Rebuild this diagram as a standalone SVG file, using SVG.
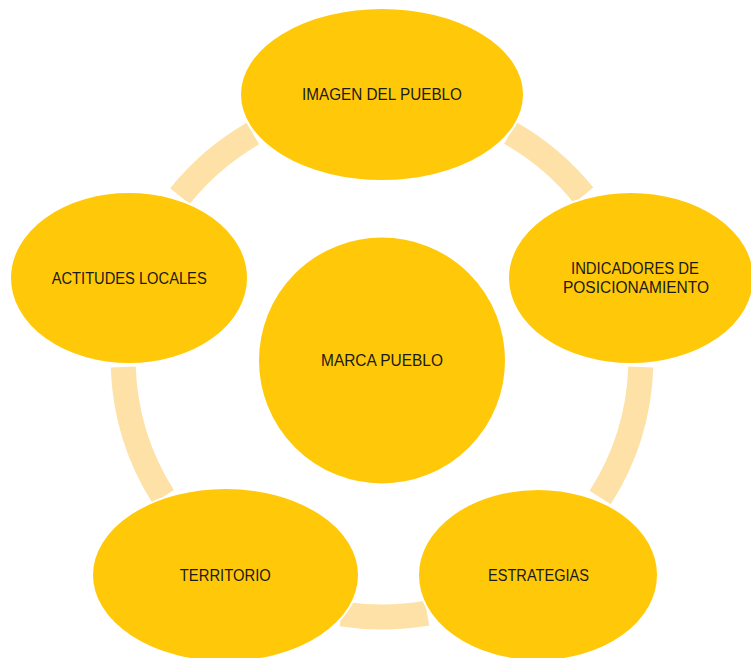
<svg xmlns="http://www.w3.org/2000/svg" width="751" height="658" viewBox="0 0 751 658">
<style>
.ring{fill:none;stroke:#FEE1A6;stroke-width:25;stroke-linecap:butt}
.node{fill:#FFC90A;stroke:#FFFFFF;stroke-width:2}
.lbl{font-family:"Liberation Sans",Arial,sans-serif;font-size:16px;fill:#1A1A1A;text-anchor:middle}
</style>
<rect width="751" height="658" fill="#FFFFFF"/>
<g id="connectors">
<path class="ring" d="M510.3,133 A259,259 0 0 1 583.6,195.3"/>
<path class="ring" d="M640.8,367 A259,259 0 0 1 600.2,497.5"/>
<path class="ring" d="M427,613.1 A259,259 0 0 1 341.5,613.8"/>
<path class="ring" d="M163.3,496.8 A259,259 0 0 1 123.2,367"/>
<path class="ring" d="M179.9,196.1 A259,259 0 0 1 252.9,133.5"/>
</g>
<g id="center">
<circle class="node" cx="382" cy="360.5" r="124"/>
<text class="lbl" x="382" y="366" textLength="122" lengthAdjust="spacingAndGlyphs">MARCA PUEBLO</text>
</g>
<g id="imagen">
<ellipse class="node" cx="382" cy="94.5" rx="142" ry="86.5"/>
<text class="lbl" x="382" y="100" textLength="160" lengthAdjust="spacingAndGlyphs">IMAGEN DEL PUEBLO</text>
</g>
<g id="indicadores">
<ellipse class="node" cx="631" cy="278" rx="123" ry="86"/>
<text class="lbl" x="635" y="274" textLength="128" lengthAdjust="spacingAndGlyphs">INDICADORES DE</text>
<text class="lbl" x="636" y="293" textLength="146" lengthAdjust="spacingAndGlyphs">POSICIONAMIENTO</text>
</g>
<g id="estrategias">
<ellipse class="node" cx="538" cy="575" rx="120" ry="86"/>
<text class="lbl" x="538.5" y="580.5" textLength="101" lengthAdjust="spacingAndGlyphs">ESTRATEGIAS</text>
</g>
<g id="territorio">
<ellipse class="node" cx="225.5" cy="575" rx="133.5" ry="87"/>
<text class="lbl" x="225.3" y="580.5" textLength="91" lengthAdjust="spacingAndGlyphs">TERRITORIO</text>
</g>
<g id="actitudes">
<ellipse class="node" cx="129" cy="278" rx="119" ry="86"/>
<text class="lbl" x="129.2" y="284" textLength="155" lengthAdjust="spacingAndGlyphs">ACTITUDES LOCALES</text>
</g>
</svg>
